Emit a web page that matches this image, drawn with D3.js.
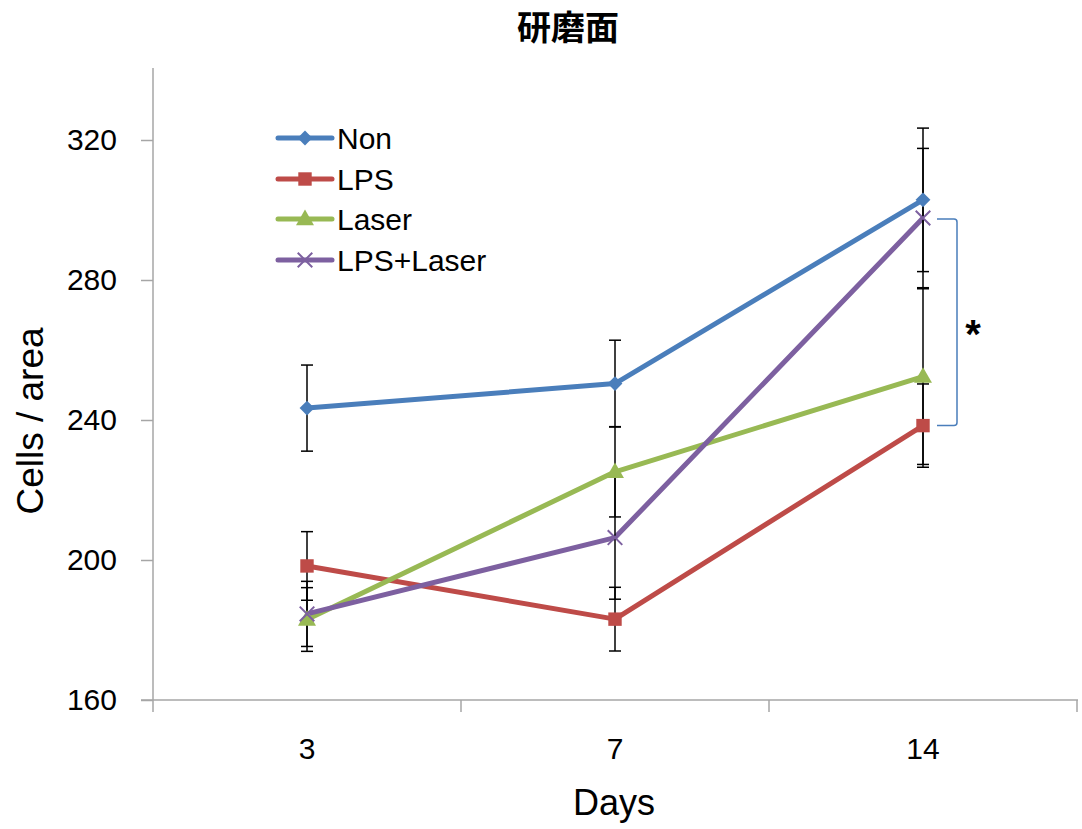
<!DOCTYPE html>
<html lang="ja">
<head>
    <meta charset="UTF-8">
    <title>研磨面</title>
    <script src="https://d3js.org/d3.v7.min.js"></script>
    <style>
        body {
            margin: 0;
            background-color: #ffffff;
            font-family: "Liberation Sans", Arial, sans-serif;
        }
        svg {
            display: block;
        }
        .y-axis path, .y-axis line {
            stroke: #a6a6a6;
            stroke-width: 1.5;
        }
        .y-axis text {
            font-size: 30px;
            fill: #000;
            font-family: "Liberation Sans", Arial, sans-serif;
        }
    </style>
</head>
<body>
    <svg width="1082" height="829"></svg>

    <script>
        // data
        const days = ["3", "7", "14"];
        const seriesNames = ["Non", "LPS", "Laser", "LPS+Laser"];
        const nonMean = [243.4, 250.4, 302.9];
        const nonErr = [12.3, 12.4, 20.5];
        const lpsMean = [198.3, 183.1, 238.4];
        const lpsErr = [9.8, 9.1, 11.9];
        const laserMean = [183.0, 225.2, 252.4];
        const laserErr = [9.1, 12.9, 25.1];
        const comboMean = [184.6, 206.4, 297.7];
        const comboErr = [9.3, 17.6, 19.9];
        const yTicks = [160, 200, 240, 280, 320];

        const colors = ["#4a7ebb", "#be4b48", "#98b954", "#7d60a0"];
        const means = [nonMean, lpsMean, laserMean, comboMean];
        const errs = [nonErr, lpsErr, laserErr, comboErr];

        const series = seriesNames.map((name, i) => ({
            name: name,
            color: colors[i],
            values: days.map((d, j) => ({day: d, v: means[i][j], e: errs[i][j]}))
        }));

        const svg = d3.select("svg");

        // scales
        const x = d3.scaleBand().domain(days).range([153, 1077]).padding(0);
        const y = d3.scaleLinear().domain([160, 340]).range([700, 70]);
        const cx = d => x(d) + x.bandwidth() / 2;

        // y axis
        svg.append("g")
            .attr("class", "y-axis")
            .attr("transform", "translate(153,0)")
            .call(d3.axisLeft(y).tickValues(yTicks).tickSize(12).tickPadding(24).tickSizeOuter(0))
            .call(g => g.select(".domain").attr("d", `M0,${y(340) - 2}V${y(160)}`));

        // x axis: line + ticks on band edges
        const xg = svg.append("g").attr("class", "x-axis");
        xg.append("line")
            .attr("x1", 141).attr("x2", 1078)
            .attr("y1", y(160)).attr("y2", y(160))
            .attr("stroke", "#a6a6a6").attr("stroke-width", 1.5);
        const edges = days.map(d => x(d)).concat([x(days[days.length - 1]) + x.bandwidth()]);
        xg.selectAll(".xtick").data(edges).enter()
            .append("line")
            .attr("x1", d => d).attr("x2", d => d)
            .attr("y1", y(160)).attr("y2", y(160) + 12)
            .attr("stroke", "#a6a6a6").attr("stroke-width", 1.5);
        xg.selectAll(".xlabel").data(days).enter()
            .append("text")
            .attr("x", d => cx(d))
            .attr("y", 759)
            .attr("text-anchor", "middle")
            .style("font-size", "30px")
            .text(d => d);

        // lines
        const line = d3.line().x(d => cx(d.day)).y(d => y(d.v));
        svg.selectAll(".series-line").data(series).enter()
            .append("path")
            .attr("class", "series-line")
            .attr("d", d => line(d.values))
            .attr("fill", "none")
            .attr("stroke", d => d.color)
            .attr("stroke-width", 5)
            .attr("stroke-linejoin", "round");

        // error bars
        const allPts = series.flatMap(s => s.values);
        const eb = svg.append("g").attr("stroke", "#000").attr("stroke-width", 1.5);
        eb.selectAll(".ebar").data(allPts).enter()
            .append("line")
            .attr("x1", d => cx(d.day)).attr("x2", d => cx(d.day))
            .attr("y1", d => y(d.v + d.e)).attr("y2", d => y(d.v - d.e));
        eb.selectAll(".ecap-top").data(allPts).enter()
            .append("line")
            .attr("x1", d => cx(d.day) - 6).attr("x2", d => cx(d.day) + 6)
            .attr("y1", d => y(d.v + d.e)).attr("y2", d => y(d.v + d.e));
        eb.selectAll(".ecap-bot").data(allPts).enter()
            .append("line")
            .attr("x1", d => cx(d.day) - 6).attr("x2", d => cx(d.day) + 6)
            .attr("y1", d => y(d.v - d.e)).attr("y2", d => y(d.v - d.e));

        // markers
        function drawMarker(g, i, px, py) {
            const c = colors[i];
            if (i === 0) {
                g.append("path").attr("d", d3.symbol(d3.symbolSquare, 110)())
                    .attr("transform", `translate(${px},${py}) rotate(45)`).attr("fill", c);
            } else if (i === 1) {
                g.append("path").attr("d", d3.symbol(d3.symbolSquare, 180)())
                    .attr("transform", `translate(${px},${py})`).attr("fill", c);
            } else if (i === 2) {
                g.append("path").attr("d", d3.symbol(d3.symbolTriangle, 140)())
                    .attr("transform", `translate(${px},${py + 1})`).attr("fill", c);
            } else {
                g.append("path").attr("d", d3.symbol(d3.symbolTimes, 140)())
                    .attr("transform", `translate(${px},${py})`)
                    .attr("fill", "none").attr("stroke", c).attr("stroke-width", 2);
            }
        }
        const mg = svg.append("g");
        series.forEach((s, i) => {
            s.values.forEach(p => drawMarker(mg, i, cx(p.day), y(p.v)));
        });

        // legend
        const legendY = [138, 179, 219, 260];
        const lg = svg.append("g");
        seriesNames.forEach((name, i) => {
            lg.append("line")
                .attr("x1", 278).attr("x2", 332)
                .attr("y1", legendY[i]).attr("y2", legendY[i])
                .attr("stroke", colors[i]).attr("stroke-width", 5)
                .attr("stroke-linecap", "round");
            drawMarker(lg, i, 305, legendY[i]);
            lg.append("text")
                .attr("x", 337)
                .attr("y", legendY[i] + 11)
                .style("font-size", "30px")
                .text(name);
        });

        // significance bracket between LPS+Laser and LPS at day 14
        const yTop = y(comboMean[2]);
        const yBot = y(lpsMean[2]);
        const bx0 = cx("14") + 14, bx1 = cx("14") + 34;
        svg.append("path")
            .attr("d", `M${bx0},${yTop + 1}L${bx1 - 3},${yTop + 1}Q${bx1},${yTop + 1} ${bx1},${yTop + 4}` +
                `L${bx1},${yBot - 3}Q${bx1},${yBot} ${bx1 - 3},${yBot}L${bx0},${yBot}`)
            .attr("fill", "none")
            .attr("stroke", "#4a7ebb")
            .attr("stroke-width", 1.5);
        svg.append("text")
            .attr("x", bx1 + 16)
            .attr("y", (yTop + yBot) / 2 + 26)
            .attr("text-anchor", "middle")
            .style("font-size", "40px")
            .style("font-weight", "bold")
            .text("*");

        // titles
        svg.append("text")
            .attr("x", 568)
            .attr("y", 40)
            .attr("text-anchor", "middle")
            .style("font-family", "'Noto Sans CJK JP', sans-serif")
            .style("font-size", "34px")
            .style("font-weight", "bold")
            .text("研磨面");

        svg.append("text")
            .attr("x", 614)
            .attr("y", 815)
            .attr("text-anchor", "middle")
            .style("font-size", "36px")
            .text("Days");

        svg.append("text")
            .attr("transform", "translate(43,421) rotate(-90)")
            .attr("text-anchor", "middle")
            .style("font-size", "37px")
            .text("Cells / area");
    </script>
</body>
</html>
